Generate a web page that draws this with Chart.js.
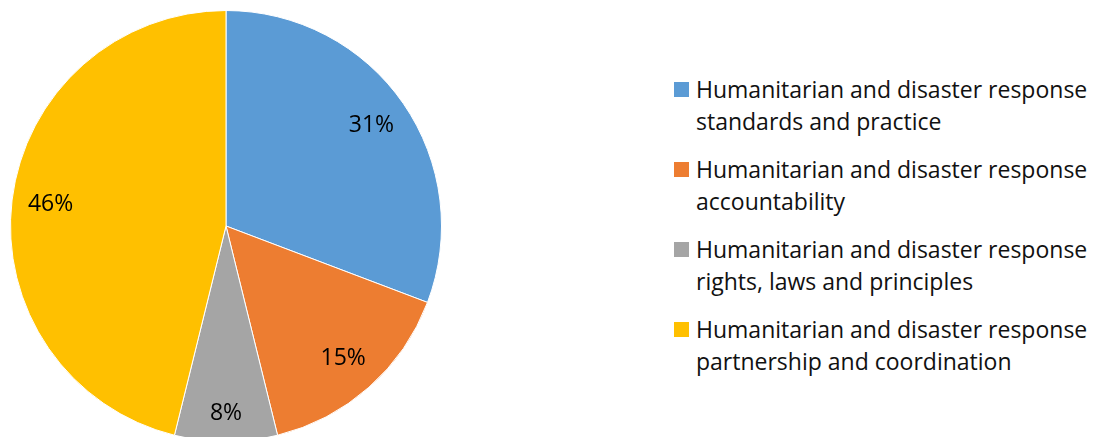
<!DOCTYPE html>
<html>
<head>
<meta charset="utf-8">
<script src="https://cdn.jsdelivr.net/npm/chart.js@4/dist/chart.umd.min.js"></script>
<style>
    html, body { margin: 0; padding: 0; background: #fff; overflow: hidden; }
    #wrap { position: relative; width: 1101px; height: 437px; overflow: hidden; }
    #pieBox { position: absolute; left: 0; top: 0; width: 452px; height: 452px; }
    #legend { position: absolute; left: 674px; top: 73px; font-family: "Open Sans", sans-serif; font-size: 23px; color: #111; }
    .item { display: flex; align-items: flex-start; margin-bottom: 16px; }
    .box { width: 15px; height: 15px; margin-top: 9px; margin-right: 7px; flex: none; }
    .txt { line-height: 32px; white-space: nowrap; }
</style>
</head>
<body>
<div id="wrap">
    <div id="pieBox"><canvas id="pieChart"></canvas></div>
    <div id="legend"></div>
</div>
<script>
// Pie chart: share of responses by topic

const categories = [
    ['Humanitarian and disaster response', 'standards and practice'],
    ['Humanitarian and disaster response', 'accountability'],
    ['Humanitarian and disaster response', 'rights, laws and principles'],
    ['Humanitarian and disaster response', 'partnership and coordination']
];
const counts = [40, 20, 10, 60];
const colors = ['#5B9BD5', '#ED7D31', '#A5A5A5', '#FFC000'];

const total = counts.reduce((s, v) => s + v, 0);

// draws the percentage inside each slice
const sliceLabels = {
    id: 'sliceLabels',
    afterDatasetsDraw(chart) {
        const ctx = chart.ctx;
        const meta = chart.getDatasetMeta(0);
        ctx.save();
        ctx.font = '23px "Open Sans", sans-serif';
        ctx.fillStyle = '#000';
        ctx.textAlign = 'center';
        ctx.textBaseline = 'middle';
        meta.data.forEach((arc, i) => {
            const { x, y, startAngle, endAngle, outerRadius } =
                arc.getProps(['x', 'y', 'startAngle', 'endAngle', 'outerRadius'], true);
            const mid = (startAngle + endAngle) / 2;
            const share = counts[i] / total;
            // small slices get their label pushed a bit further out
            const r = outerRadius * (share < 0.1 ? 0.87 : 0.82);
            const pct = Math.round(share * 100) + '%';
            ctx.fillText(pct, x + Math.cos(mid) * r, y + Math.sin(mid) * r);
        });
        ctx.restore();
    }
};

const pieChart = new Chart(document.getElementById('pieChart'), {
    type: 'pie',
    data: {
        labels: categories.map(c => c.join(' ')),
        datasets: [{
            data: counts,
            backgroundColor: colors,
            borderColor: '#ffffff',
            borderWidth: 1
        }]
    },
    options: {
        responsive: true,
        maintainAspectRatio: false,
        animation: false,
        layout: { padding: 10 },
        plugins: {
            legend: { display: false },
            tooltip: { enabled: false }
        }
    },
    plugins: [sliceLabels]
});

// html legend built from the same arrays
const legendEl = document.getElementById('legend');
categories.forEach((lines, i) => {
    const item = document.createElement('div');
    item.className = 'item';
    const box = document.createElement('span');
    box.className = 'box';
    box.style.background = colors[i];
    const txt = document.createElement('span');
    txt.className = 'txt';
    txt.innerHTML = lines.join('<br>');
    item.appendChild(box);
    item.appendChild(txt);
    legendEl.appendChild(item);
});
</script>
</body>
</html>
